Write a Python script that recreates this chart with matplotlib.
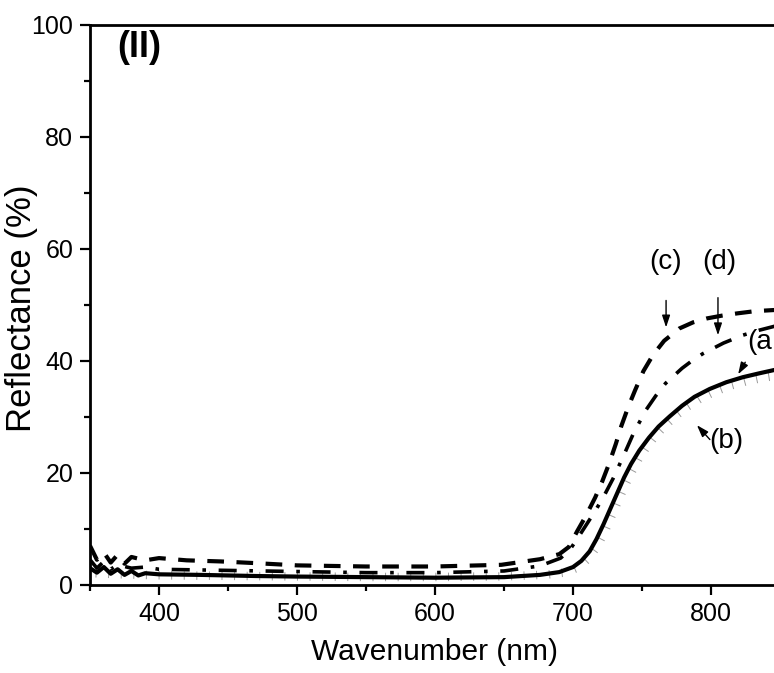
import numpy as np
import matplotlib.pyplot as plt
import matplotlib.patheffects as pe
from matplotlib.ticker import MultipleLocator

plt.rcParams['font.family'] = ['Liberation Sans', 'DejaVu Sans']

# reflectance spectra (wavelength nm, %)
wl_a = [350, 355, 360, 365, 370, 375, 380, 385, 390, 400, 430, 470, 500, 550, 600, 650, 676, 690, 700,
        706, 712, 717, 722, 727, 732, 737, 742, 748, 755, 762, 770, 779, 788, 799, 811, 823, 835, 846]
refl_a = [3.0, 2.2, 3.2, 2.0, 2.8, 1.8, 2.5, 1.7, 2.1, 1.9, 1.8, 1.6, 1.5, 1.4, 1.3, 1.4, 1.8, 2.3, 3.2,
          4.3, 6.0, 8.2, 10.8, 13.6, 16.4, 19.2, 21.6, 24.0, 26.3, 28.3, 30.1, 32.0, 33.6, 35.0, 36.2,
          37.1, 37.8, 38.4]

wl_b = [350, 370, 400, 450, 500, 550, 600, 650, 680, 694, 703, 709, 715, 720, 725, 730, 735, 740, 745,
        751, 758, 765, 773, 782, 791, 802, 814, 826, 838, 846]
refl_b = [2.8, 2.6, 2.4, 2.3, 2.2, 2.1, 2.1, 2.2, 2.5, 2.9, 3.8, 5.2, 7.2, 9.6, 12.4, 15.2, 18.0, 20.5,
          22.8, 25.0, 27.2, 29.0, 30.8, 32.5, 33.9, 35.2, 36.3, 37.1, 37.7, 38.0]

wl_c = [350, 355, 360, 365, 370, 375, 380, 390, 400, 420, 445, 470, 500, 550, 600, 648, 676, 690, 697,
        703, 709, 716, 721, 726, 731, 735, 740, 745, 751, 758, 766, 777, 787, 797, 808, 819, 832, 846]
refl_c = [7.0, 4.5, 5.8, 4.0, 5.4, 3.8, 5.0, 4.4, 4.8, 4.4, 4.2, 3.9, 3.5, 3.3, 3.3, 3.6, 4.6, 5.5, 6.8,
          9.6, 12.2, 15.6, 18.4, 21.6, 25.2, 28.4, 31.8, 34.8, 38.2, 41.1, 43.6, 45.8, 46.9, 47.6, 48.1,
          48.5, 48.9, 49.1]

wl_d = [350, 355, 360, 365, 370, 380, 390, 400, 450, 500, 550, 600, 650, 676, 691, 698, 704, 710, 716,
        722, 729, 737, 744, 753, 760, 767, 779, 786, 794, 809, 823, 835, 846]
refl_d = [4.5, 3.0, 4.2, 2.8, 3.6, 3.0, 3.2, 2.8, 2.6, 2.4, 2.2, 2.2, 2.5, 3.4, 4.8, 6.4, 8.6, 10.9, 13.2,
          15.7, 19.0, 23.3, 27.2, 31.3, 33.8, 36.0, 38.7, 40.0, 41.3, 43.2, 44.6, 45.5, 46.2]

fig = plt.figure(figsize=(7.74, 6.73), dpi=100)
ax = fig.add_axes([0.1163, 0.1308, 0.8837, 0.8321])

ax.plot(wl_b, refl_b, color='0.6', lw=0,
        path_effects=[pe.withTickedStroke(angle=-90, spacing=9, length=0.6, linewidth=0.7, foreground='0.6')])
ax.plot(wl_a, refl_a, color='black', lw=3, solid_joinstyle='round')
ax.plot(wl_c, refl_c, color='black', lw=3, linestyle=(0, (4, 3)))
ax.plot(wl_d, refl_d, color='black', lw=2.6, linestyle=(0, (5, 3.5, 1, 3.5)))

fs = 20
ax.text(386, 95.9, '(II)', fontsize=26, fontweight='bold', ha='center', va='center')
ax.text(767, 57.7, '(c)', fontsize=fs, ha='center', va='center')
ax.text(806, 57.7, '(d)', fontsize=fs, ha='center', va='center')
ax.text(826, 43.4, '(a', fontsize=fs, ha='left', va='center')
ax.text(799, 25.7, '(b)', fontsize=fs, ha='left', va='center')

arrow = dict(arrowstyle='-|>,head_length=0.6,head_width=0.2', color='black', lw=1, mutation_scale=12)
ax.annotate('', xy=(767.4, 45.5), xytext=(767.4, 51.3), arrowprops=arrow)
ax.annotate('', xy=(805, 44.1), xytext=(805, 51.8), arrowprops=arrow)
ax.annotate('', xy=(818.6, 37.2), xytext=(825.8, 40.2), arrowprops=arrow)
ax.annotate('', xy=(788.4, 28.9), xytext=(800.5, 25.6), arrowprops=arrow)

ax.set_xlim(350, 845.6)
ax.set_ylim(0, 100)
ax.xaxis.set_major_locator(MultipleLocator(100))
ax.xaxis.set_minor_locator(MultipleLocator(50))
ax.yaxis.set_major_locator(MultipleLocator(20))
ax.yaxis.set_minor_locator(MultipleLocator(10))
ax.tick_params(which='major', direction='out', length=7, width=1.6, labelsize=18, pad=5)
ax.tick_params(which='minor', direction='out', length=4, width=1.6)
for s in ['left', 'bottom', 'top']:
    ax.spines[s].set_linewidth(2)
ax.spines['right'].set_visible(False)

ax.set_xlabel('Wavenumber (nm)', fontsize=21.5)
ax.set_ylabel('Reflectance (%)', fontsize=25)
ax.xaxis.set_label_coords(0.504, -0.094)
ax.yaxis.set_label_coords(-0.076, 0.494)
ax.xaxis.label.set_va('top')

fig.savefig('out.png', dpi=100)
